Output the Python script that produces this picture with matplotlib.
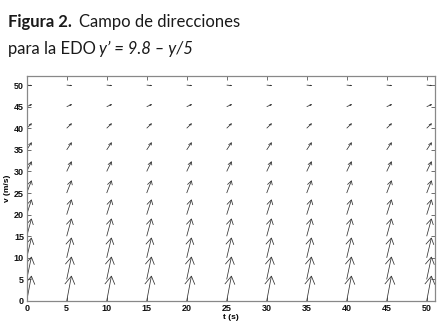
import numpy as np
import matplotlib
matplotlib.use("Agg")
import matplotlib.pyplot as plt
from matplotlib.collections import LineCollection

# Data: direction field for y' = 9.8 - y/5
t_vals = [0, 5, 10, 15, 20, 25, 30, 35, 40, 45, 50]
v_vals = [0, 5, 10, 15, 20, 25, 30, 35, 40, 45, 50]
xticks = [0, 5, 10, 15, 20, 25, 30, 35, 40, 45, 50]
yticks = [0, 5, 10, 15, 20, 25, 30, 35, 40, 45, 50]

W, H = 448, 329
fig = plt.figure(figsize=(W / 100, H / 100), dpi=100)
ax = fig.add_axes([26.7 / W, 1 - 301 / H, (434.7 - 26.7) / W, (301 - 76) / H])

T, V = np.meshgrid(t_vals, v_vals)
U = np.ones_like(T, dtype=float)
F = 9.8 - V / 5.0

# MATLAB-style quiver autoscale
n = len(t_vals)
delx = (max(t_vals) - min(t_vals)) / n
dely = (max(v_vals) - min(v_vals)) / n
length = np.sqrt((U ** 2 + F ** 2) / (delx ** 2 + dely ** 2))
s = 0.9 / length.max()
u = (U * s).ravel()
v = (F * s).ravel()
x = T.ravel().astype(float)
y = V.ravel().astype(float)

alpha, beta = 0.33, 0.33
segs = []
eps = 1e-12
for xi, yi, ui, vi in zip(x, y, u, v):
    segs.append([(xi, yi), (xi + ui, yi + vi)])
    hx = [xi + ui - alpha * (ui + beta * (vi + eps)), xi + ui,
          xi + ui - alpha * (ui - beta * (vi + eps))]
    hy = [yi + vi - alpha * (vi - beta * (ui + eps)), yi + vi,
          yi + vi - alpha * (vi + beta * (ui + eps))]
    segs.append(list(zip(hx, hy)))

lc = LineCollection(segs, colors="#333333", linewidths=0.55)
ax.add_collection(lc)

ax.set_xlim(0, 51)
ax.set_ylim(0, 52.1)
ax.set_xticks(xticks)
ax.set_yticks(yticks)
ax.tick_params(direction="in", length=3, width=0.6, color="#555555",
               top=True, right=True, labelsize=6.5, pad=2, labelcolor="#111111")
for lab in ax.get_xticklabels() + ax.get_yticklabels():
    lab.set_family("Liberation Sans")
    lab.set_fontweight("bold")
for sp in ax.spines.values():
    sp.set_color("#888888")
    sp.set_linewidth(0.9)

ax.set_xlabel("t (s)", fontsize=6, family="Liberation Sans", fontweight="bold", labelpad=1)
ax.set_ylabel("v (m/s)", fontsize=6, family="Liberation Sans", fontweight="bold", labelpad=2)

# Caption
def px(xp, yp):
    return xp / W, 1 - yp / H

fs = 12
renderer = fig.canvas.get_renderer()

def chain(x0, ybase, pieces):
    xcur = x0
    for txt, kw, gap in pieces:
        t = fig.text(*px(xcur, ybase), txt, fontsize=fs, family="Lato",
                     color="#1a1a1a", va="baseline", **kw)
        bb = t.get_window_extent(renderer)
        xcur = bb.x1 + gap

chain(8, 27, [("Figura 2.", {"fontweight": "bold"}, 7),
              ("Campo de direcciones", {}, 0)])
chain(8, 54, [("para la EDO", {}, 3),
              ("y\u2019 = 9.8 \u2013 y/5", {"style": "italic"}, 0)])

fig.savefig("out.png", dpi=100, facecolor="white")
